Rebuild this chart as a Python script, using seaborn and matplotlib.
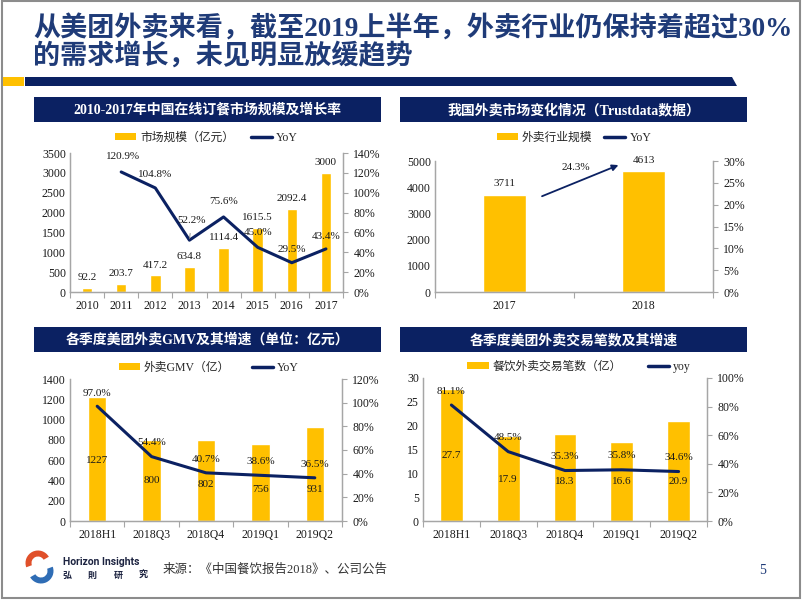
import matplotlib
matplotlib.use('Agg')
import matplotlib.pyplot as plt
import seaborn as sns
import pandas as pd
import numpy as np
from matplotlib.patches import Rectangle, Polygon, Wedge, Patch
from matplotlib.lines import Line2D
from matplotlib.ticker import FuncFormatter

# ---------------- data ----------------
title_line1 = '从美团外卖来看，截至2019上半年，外卖行业仍保持着超过30%'
title_line2 = '的需求增长，未见明显放缓趋势'

c1_title = '2010-2017年中国在线订餐市场规模及增长率'
c1_years = ['2010', '2011', '2012', '2013', '2014', '2015', '2016', '2017']
c1_size = [92.2, 203.7, 417.2, 634.8, 1114.4, 1615.5, 2092.4, 3000]
c1_yoy = [np.nan, 120.9, 104.8, 52.2, 75.6, 45.0, 29.5, 43.4]
c1_bar_name = '市场规模（亿元）'
c1_line_name = 'YoY'

c2_title = '我国外卖市场变化情况（Trustdata数据）'
c2_years = ['2017', '2018']
c2_size = [3711, 4613]
c2_yoy = 24.3
c2_bar_name = '外卖行业规模'
c2_line_name = 'YoY'

c3_title = '各季度美团外卖GMV及其增速（单位：亿元）'
c3_periods = ['2018H1', '2018Q3', '2018Q4', '2019Q1', '2019Q2']
c3_gmv = [1227, 800, 802, 756, 931]
c3_yoy = [97.0, 54.4, 40.7, 38.6, 36.5]
c3_bar_name = '外卖GMV（亿）'
c3_line_name = 'YoY'

c4_title = '各季度美团外卖交易笔数及其增速'
c4_periods = ['2018H1', '2018Q3', '2018Q4', '2019Q1', '2019Q2']
c4_orders = [27.7, 17.9, 18.3, 16.6, 20.9]
c4_yoy = [81.1, 48.5, 35.3, 35.8, 34.6]
c4_bar_name = '餐饮外卖交易笔数（亿）'
c4_line_name = 'yoy'

source_text = '来源：《中国餐饮报告2018》、公司公告'
page_no = '5'

# ---------------- style ----------------
sns.set_theme(style='white')
plt.rcParams['font.family'] = ['Liberation Serif', 'Noto Sans CJK SC']
plt.rcParams['axes.unicode_minus'] = False

NAVY = '#0B2162'
GOLD = '#FFC000'
TITLE_BLUE = '#1F3B78'
GRAY = '#A6A6A6'
TXT = '#1a1a1a'

W, H = 802, 602
fig = plt.figure(figsize=(W / 100, H / 100), dpi=100)


def rect(x0, y0, x1, y1):
    return [x0 / W, 1 - y1 / H, (x1 - x0) / W, (y1 - y0) / H]


# background canvas in pixel coordinates
bg = fig.add_axes([0, 0, 1, 1], zorder=-5)
bg.set_xlim(0, W)
bg.set_ylim(H, 0)
bg.axis('off')

# slide frame
bg.add_patch(Rectangle((1.5, 0.5), 798.5, 597.5, fill=False, ec='#8c8c8c', lw=1.5))

# title
for txt, y in ((title_line1, 29), (title_line2, 56.5)):
    bg.text(33, y, txt, color=TITLE_BLUE, fontsize=19.5, fontweight='bold',
            va='center', ha='left', family=['Liberation Serif', 'Noto Sans CJK SC'])

# decorative bar under title
bg.add_patch(Rectangle((3, 77), 21, 9, color=GOLD, lw=0))
bg.add_patch(Polygon([(25, 77), (732, 77), (737, 86), (25, 86)], closed=True, color=NAVY, lw=0))

# panel headers
headers = [((34, 97, 381, 122), c1_title), ((400, 97, 747, 122), c2_title),
           ((34, 327, 381, 352), c3_title), ((400, 327, 747, 352), c4_title)]
for (x0, y0, x1, y1), t in headers:
    bg.add_patch(Rectangle((x0, y0), x1 - x0, y1 - y0, color=NAVY, lw=0))
    bg.text((x0 + x1) / 2, (y0 + y1) / 2 + 0.5, t, color='white', fontsize=10, fontweight='bold',
            ha='center', va='center')

# footer logo
bg.add_patch(Wedge((38, 563), 12.5, 160, 330, width=6, color='#E0502A', lw=0))
bg.add_patch(Wedge((41, 571), 12.5, -20, 150, width=6, color='#2F6DB5', lw=0))
bg.text(63, 562, 'Horizon Insights', family='Roboto', fontweight='bold', fontsize=7.5,
        color='#1c2340', va='center', ha='left')
for ch, x in zip('弘則研究', (67, 92, 118, 143)):
    bg.text(x, 575, ch, family='Noto Sans CJK TC', fontweight='bold', fontsize=6.5,
            color='#1c2340', va='center', ha='center')
bg.text(163, 570, source_text, fontsize=9, color='#333333', va='center', ha='left')
bg.text(763, 571, page_no, fontsize=10, color=TITLE_BLUE, va='center', ha='center')

pct = FuncFormatter(lambda v, p: f'{v:.0f}%')


def make_axes(box, cats, bars, bar_w, lmax, lstep, rmax, rstep):
    ax = fig.add_axes(rect(*box))
    n = len(cats)
    df = pd.DataFrame({'cat': cats, 'val': bars})
    sns.barplot(data=df, x='cat', y='val', ax=ax, color=GOLD, saturation=1, width=bar_w)
    ax2 = ax.twinx()
    ax.set_xlim(-0.5, n - 0.5)
    ax.set_ylim(0, lmax)
    ax.set_yticks(np.arange(0, lmax + 1e-9, lstep))
    ax2.set_ylim(0, rmax)
    ax2.set_yticks(np.arange(0, rmax + 1e-9, rstep))
    ax2.yaxis.set_major_formatter(pct)
    ax.set_xticks(range(n))
    ax.set_xticklabels(cats)
    ax.set_xticks(np.arange(-0.5, n, 1), minor=True)
    ax.tick_params(axis='x', which='major', length=0, labelsize=8.5, pad=6, colors=TXT)
    ax.tick_params(axis='x', which='minor', length=4, width=0.8, color=GRAY, direction='out', bottom=True)
    ax.tick_params(axis='y', length=0, labelsize=8.5, pad=3, colors=TXT)
    ax2.tick_params(axis='y', length=3.5, width=0.8, color=GRAY, direction='out',
                    labelsize=8.5, pad=4, right=True, labelcolor=TXT)
    for a in (ax, ax2):
        for s in a.spines.values():
            s.set_color(GRAY)
            s.set_linewidth(0.9)
        a.spines['top'].set_visible(False)
        a.grid(False)
    ax.set_xlabel('')
    ax.set_ylabel('')
    ax2.set_ylabel('')
    return ax, ax2


def add_line(ax, ax2, yoy):
    n = len(yoy)
    xs = np.arange(n)
    d = pd.DataFrame({'x': xs, 'y': yoy}).dropna()
    sns.lineplot(data=d, x='x', y='y', ax=ax2, color=NAVY, lw=2.2)
    ax.set_xlim(-0.5, n - 0.5)
    ax2.set_xlabel('')
    ax2.set_ylabel('')


def add_legend(ax2, bar_name, line_name, anchor, colsp=1.8):
    handles = [Patch(facecolor=GOLD, edgecolor='none'), Line2D([], [], color=NAVY, lw=2.5)]
    ax2.legend(handles, [bar_name, line_name], loc='center', bbox_to_anchor=anchor, ncol=2,
               frameon=False, fontsize=8.5, handlelength=1.8, handleheight=0.55,
               handletextpad=0.35, columnspacing=colsp, borderaxespad=0, borderpad=0)


# ---------------- chart 1 ----------------
ax, ax2 = make_axes((70, 153, 343, 292), c1_years, c1_size, 0.31, 3500, 500, 140, 20)
add_line(ax, ax2, c1_yoy)
for i, v in enumerate(c1_size):
    ax.annotate(f'{v:g}' if v != int(v) else f'{int(v)}', (i, v), xytext=(0, 7.5),
                textcoords='offset points', ha='center', va='center', fontsize=8, color=TXT)
c1_off = [(0, 0), (1, 11), (0, 9.5), (1.5, 14.5), (0, 11), (0, 11), (0, 9.5), (0, 9)]
for i, v in enumerate(c1_yoy):
    if np.isnan(v):
        continue
    kw = {}
    if i == 3:
        kw = dict(arrowprops=dict(arrowstyle='-', color='#808080', lw=0.6, shrinkA=4, shrinkB=1))
    ax2.annotate(f'{v:.1f}%', (i, v), xytext=c1_off[i], textcoords='offset points',
                 ha='center', va='center', fontsize=8, color=TXT, **kw)
add_legend(ax2, c1_bar_name, c1_line_name, (0.5, 1.108), colsp=1.4)

# ---------------- chart 2 ----------------
ax, ax2 = make_axes((435, 161, 713, 292), c2_years, c2_size, 0.31, 5000, 1000, 30, 5)
for i, v in enumerate(c2_size):
    ax.annotate(f'{v}', (i, v), xytext=(0, 8), textcoords='offset points',
                ha='center', va='center', fontsize=8, color=TXT)
ax.annotate('', xy=(0.82, c2_size[1] * 1.05), xytext=(0.27, c2_size[0] * 0.985),
            arrowprops=dict(arrowstyle='-|>', color=NAVY, lw=1.3, mutation_scale=9,
                            shrinkA=0, shrinkB=0))
ax.text(0.51, c2_size[1] * 1.026, f'{c2_yoy:.1f}%', ha='center', va='center', fontsize=8, color=TXT)
add_legend(ax2, c2_bar_name, c2_line_name, (0.5, 1.176), colsp=1.0)

# ---------------- chart 3 ----------------
ax, ax2 = make_axes((70, 379, 342, 521), c3_periods, c3_gmv, 0.34, 1400, 200, 120, 20)
add_line(ax, ax2, c3_yoy)
c3_label_y = [600, 395, 355, 315, 315]
for i, v in enumerate(c3_gmv):
    ax.text(i, c3_label_y[i], f'{v}', ha='center', va='center', fontsize=8, color=TXT)
c3_off = [(0, 9.5), (0, 10.5), (0, 9.5), (0, 10), (0, 9.5)]
for i, v in enumerate(c3_yoy):
    ax2.annotate(f'{v:.1f}%', (i, v), xytext=c3_off[i], textcoords='offset points',
                 ha='center', va='center', fontsize=8, color=TXT)
add_legend(ax2, c3_bar_name, c3_line_name, (0.51, 1.077), colsp=1.8)

# ---------------- chart 4 ----------------
ax, ax2 = make_axes((423, 378, 707, 521), c4_periods, c4_orders, 0.40, 30, 5, 100, 20)
add_line(ax, ax2, c4_yoy)
c4_label_y = [13.7, 8.8, 8.2, 8.2, 8.2]
for i, v in enumerate(c4_orders):
    ax.text(i, c4_label_y[i], f'{v}', ha='center', va='center', fontsize=8, color=TXT)
for i, v in enumerate(c4_yoy):
    ax2.annotate(f'{v:.1f}%', (i, v), xytext=(0, 10), textcoords='offset points',
                 ha='center', va='center', fontsize=8, color=TXT)
add_legend(ax2, c4_bar_name, c4_line_name, (0.55, 1.077), colsp=2.2)

fig.savefig('out.png', dpi=100)
